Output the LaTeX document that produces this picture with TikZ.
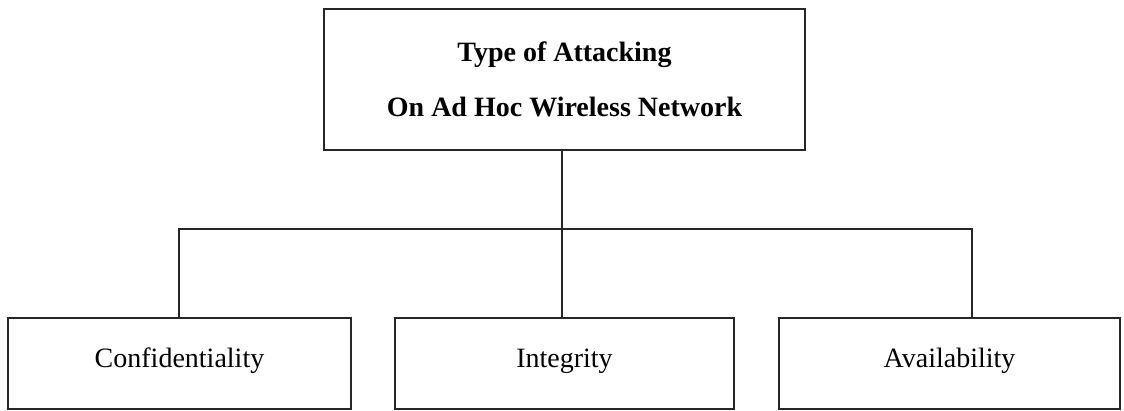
\documentclass[tikz,border=0pt]{standalone}
\usepackage{fontspec}
\setmainfont{Liberation Serif}
\begin{document}
\begin{tikzpicture}[x=1pt,y=-1pt,
  box/.style={draw=black!85, line width=1.8pt, inner sep=0pt, align=center,
              font=\fontsize{28}{55}\selectfont},
  leaf/.style={box, minimum height=91pt, text height=19.5pt, text depth=12.5pt},
  link/.style={draw=black!85, line width=1.8pt}]
\useasboundingbox (0,0) rectangle (1124,410);

% root of the hierarchy
\node[box, minimum width=481pt, minimum height=141pt,
      font=\bfseries\fontsize{28}{55}\selectfont] (root) at (564.5,79.5)
  {Type of Attacking\\On Ad Hoc Wireless Network};

% the three categories
\node[leaf, minimum width=343pt] (conf)  at (179.5,363.5) {Confidentiality};
\node[leaf, minimum width=339pt] (integ) at (564.5,363.5) {Integrity};
\node[leaf, minimum width=341pt] (avail) at (949.5,363.5) {Availability};

% bus points
\coordinate (busL) at (179,229);
\coordinate (busM) at (562,229);
\coordinate (busR) at (972,229);

% connectors
\draw[link] (root.south -| busM) -- (busM);
\draw[link] (conf.north -| busL) -- (busL) -- (busR) -- (busR |- avail.north);
\draw[link] (busM) -- (busM |- integ.north);
\end{tikzpicture}
\end{document}
